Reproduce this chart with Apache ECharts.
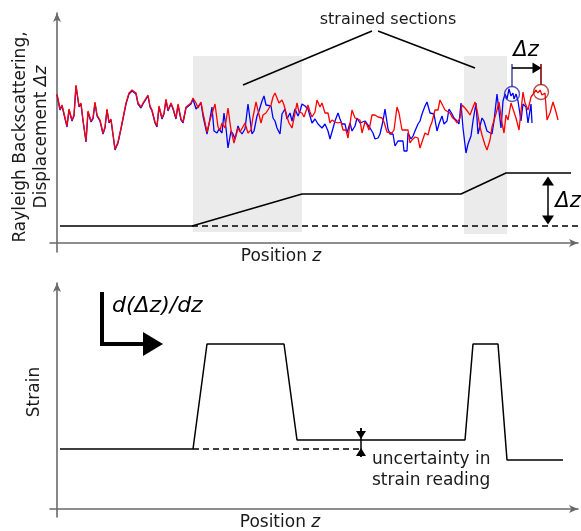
<!DOCTYPE html>
<html>
<head>
<meta charset="utf-8">
<script src="https://cdn.jsdelivr.net/npm/echarts@6/dist/echarts.min.js"></script>
<style>
html, body { margin: 0; padding: 0; background: #fff; }
#main { width: 581px; height: 531px; }
</style>
</head>
<body>
<div id="main"></div>
<script>
// top panel: backscatter traces (position z, level)
var commonTrace = [[0,149],[3,134],[5,138],[7,136],[10,117],[12,134],[15,123],[17,128],[19,158],[22,137],[24,140],[26,123],[29,102],[31,132],[34,122],[36,125],[38,141],[40,128],[43,123],[46,110],[48,116],[50,134],[52,121],[54,124],[58,94],[61,101],[64,115],[69,140],[72,150],[75,153],[79,150],[81,140],[84,136],[86,140],[88,140],[91,148],[93,137],[95,133],[98,121],[100,117],[102,137],[105,125],[107,130],[109,144],[111,133],[114,140],[116,135],[119,125],[121,139],[124,124],[126,121],[129,136],[131,138],[134,140],[136,145]];

var blueTail = [[139,135],[141,134],[144,141],[146,128],[150,110],[152,120],[155,137],[157,113],[160,111],[162,115],[165,111],[167,131],[169,116],[171,96],[174,113],[176,110],[178,105],[181,118],[183,113],[185,110],[188,115],[191,140],[193,140],[195,110],[197,113],[200,128],[202,133],[205,143],[207,148],[209,139],[211,141],[214,138],[216,126],[218,123],[220,116],[223,110],[225,130],[228,135],[230,125],[233,131],[235,123],[238,135],[241,128],[243,133],[245,140],[248,138],[251,135],[253,133],[255,121],[258,125],[261,120],[265,116],[268,120],[271,113],[273,105],[275,106],[278,123],[281,131],[283,125],[285,120],[288,120],[290,111],[293,121],[295,113],[298,118],[300,126],[303,121],[305,123],[308,123],[310,121],[313,116],[316,111],[318,105],[321,106],[323,110],[326,123],[328,135],[331,115],[333,110],[336,110],[338,98],[341,103],[343,105],[346,103],[347,93],[350,93],[351,111],[354,105],[356,108],[358,113],[361,120],[363,123],[365,130],[368,138],[370,142],[373,131],[375,130],[377,130],[380,113],[382,120],[385,128],[387,120],[390,123],[392,135],[395,130],[397,126],[400,123],[402,120],[404,141],[406,116],[409,91],[411,100],[414,108],[416,123],[419,141],[421,110],[423,111],[425,126],[427,123],[430,113],[432,111],[435,110],[437,123],[440,150],[442,133],[444,116],[446,143],[448,150],[450,145],[452,155],[454,148],[456,151],[457,145],[459,150],[461,143],[464,123],[466,140],[469,137],[471,121],[474,140],[475,121]];

var redTail = [[139,140],[141,135],[144,141],[146,130],[150,111],[153,123],[158,139],[161,116],[163,113],[165,120],[168,115],[171,135],[174,113],[177,100],[181,115],[183,111],[185,113],[188,120],[191,110],[194,113],[196,126],[199,141],[201,142],[204,120],[206,128],[209,130],[211,131],[214,138],[216,146],[218,150],[220,145],[222,140],[225,143],[227,138],[230,126],[232,120],[235,115],[237,113],[240,140],[242,131],[245,130],[247,126],[251,138],[253,131],[255,126],[258,131],[260,143],[263,136],[265,140],[268,130],[271,130],[273,120],[275,123],[278,121],[281,120],[284,121],[286,113],[289,113],[291,105],[293,106],[295,133],[298,125],[300,123],[303,123],[305,110],[308,121],[310,118],[312,113],[315,128],[318,128],[321,126],[325,125],[327,121],[330,111],[332,110],[335,110],[337,113],[340,136],[342,130],[345,113],[348,113],[351,113],[353,100],[355,103],[358,106],[361,105],[363,95],[365,95],[368,110],[371,108],[373,116],[375,121],[378,133],[381,133],[383,143],[385,145],[388,133],[390,135],[393,130],[395,126],[398,123],[400,120],[403,125],[405,138],[408,135],[411,131],[413,128],[415,126],[418,141],[420,133],[423,116],[425,108],[428,98],[430,93],[433,103],[435,116],[438,126],[440,133],[442,141],[445,120],[447,110],[449,128],[451,123],[454,140],[457,131],[459,125],[462,113],[463,111],[466,151],[468,140],[471,133],[474,146],[476,145],[479,153],[481,150],[483,153],[485,148],[488,150],[490,123],[493,130],[496,141],[499,131],[501,123]];

// displacement (top) and strain (bottom) profiles
var displacement = [[3,17],[135,17],[245,49],[404,49],[449,70],[514,70]];
var displacementBase = [[135,17],[521,17]];
var strainedSections = [[136,245,187,11],[407,450,187,9]];
var strain = [[3,60],[136,60],[150,165],[227,165],[240,69],[408,69],[416,165],[441,165],[450,49],[506,49]];
var strainBase = [[136,60],[303,60]];

// markers
var bluePeak = [455,149];
var redPeak = [484,151];
var shiftArrowY = 175;

var axisColor = '#6a6a6a';
var font = 'DejaVu Sans';
var ink = '#1a1a1a';

var chart = echarts.init(document.getElementById('main'));

function axisX(grid) {
    return {
        gridIndex: grid, type: 'value', min: -7, max: 521,
        axisLine: {show: true, onZero: true, symbol: ['none', 'arrow'], symbolSize: [6, 9],
            lineStyle: {color: axisColor, width: 1.6}},
        axisTick: {show: false}, axisLabel: {show: false}, splitLine: {show: false}
    };
}
function axisY(grid, min, max) {
    return {
        gridIndex: grid, type: 'value', min: min, max: max,
        axisLine: {show: true, onZero: true, symbol: ['none', 'arrow'], symbolSize: [6, 9],
            lineStyle: {color: axisColor, width: 1.6}},
        axisTick: {show: false}, axisLabel: {show: false}, splitLine: {show: false}
    };
}

function plain(data, xi, yi, color, width, z, dashed) {
    return {
        type: 'line', xAxisIndex: xi, yAxisIndex: yi, data: data, symbol: 'none', silent: true, z: z,
        lineStyle: {color: color, width: width, type: dashed ? [6, 4] : 'solid'},
        animation: false
    };
}

function arrowLine(xi, yi, from, to, symbols, size, color, width) {
    return {
        type: 'line', xAxisIndex: xi, yAxisIndex: yi, data: [], silent: true, z: 6,
        markLine: {
            silent: true, animation: false, symbol: symbols, symbolSize: size,
            label: {show: false},
            lineStyle: {color: color, width: width, type: 'solid'},
            data: [[{coord: from}, {coord: to}]]
        }
    };
}

var areaData = strainedSections.map(function (s) {
    return [{coord: [s[0], s[2]]}, {coord: [s[1], s[3]]}];
});

function label(x, y, text, size, opts) {
    opts = opts || {};
    return {
        type: 'text', x: x, y: y, rotation: opts.rotation || 0, silent: true,
        style: {
            text: text, fill: opts.fill || ink,
            font: (opts.italic ? 'italic ' : '') + size + 'px "' + font + '"',
            align: opts.align || 'center', verticalAlign: 'middle',
            lineHeight: opts.lineHeight,
            rich: {i: {fontStyle: 'italic', fontSize: size, fontFamily: font, lineHeight: opts.lineHeight}}
        }
    };
}

var option = {
    animation: false,
    backgroundColor: '#fff',
    grid: [
        {left: 50, right: 3, top: 13, bottom: 279},
        {left: 50, right: 3, top: 283, bottom: 14}
    ],
    xAxis: [axisX(0), axisX(1)],
    yAxis: [
        axisY(0, -9, 230),
        {gridIndex: 0, type: 'value', min: -8, max: 231, show: false},
        axisY(1, -8, 226)
    ],
    series: [
        {
            type: 'line', xAxisIndex: 0, yAxisIndex: 0, data: [], z: 1, silent: true,
            markArea: {silent: true, itemStyle: {color: '#ebebeb'}, data: areaData}
        },
        plain(commonTrace.concat(blueTail), 0, 1, '#0000ff', 1.3, 3),
        plain(commonTrace.concat(redTail), 0, 0, '#ff0000', 1.3, 4),
        plain(displacement, 0, 0, '#000', 1.5, 5),
        plain(displacementBase, 0, 0, '#000', 1.5, 5, true),
        // delta z between the two curves
        arrowLine(0, 0, [491, 62], [491, 23], ['triangle', 'triangle'], [12, 9], '#000', 1.5),
        // leader lines to the strained sections
        arrowLine(0, 0, [315, 212], [186, 158], ['none', 'none'], 0, '#000', 1.5),
        arrowLine(0, 0, [321, 212], [418, 175], ['none', 'none'], 0, '#000', 1.5),
        // markers on matching peaks
        arrowLine(0, 0, [bluePeak[0], 179], [bluePeak[0], 156], ['none', 'none'], 0, '#5050b0', 1.6),
        arrowLine(0, 0, [redPeak[0], 179], [redPeak[0], 158], ['none', 'none'], 0, '#8b0000', 1.6),
        arrowLine(0, 0, [bluePeak[0], shiftArrowY], [redPeak[0] - 4, shiftArrowY], ['none', 'triangle'], [11, 9], '#000', 1.6),
        {
            type: 'scatter', xAxisIndex: 0, yAxisIndex: 0, silent: true, z: 6,
            symbol: 'circle', symbolSize: 15,
            data: [
                {value: bluePeak, itemStyle: {color: 'rgba(0,0,0,0)', borderColor: '#2a2aa8', borderWidth: 1.4}},
                {value: redPeak, itemStyle: {color: 'rgba(0,0,0,0)', borderColor: '#a02020', borderWidth: 1.4}}
            ]
        },
        // bottom panel
        plain(strain, 1, 2, '#000', 1.5, 5),
        plain(strainBase, 1, 2, '#000', 1.5, 5, true),
        arrowLine(1, 2, [304, 81], [304, 52], ['none', 'none'], 0, '#000', 1.5),
        arrowLine(1, 2, [304, 81], [304, 74], ['none', 'triangle'], [10, 8], '#000', 1.5),
        arrowLine(1, 2, [304, 52], [304, 57], ['none', 'triangle'], [10, 8], '#000', 1.5),
        {
            type: 'line', xAxisIndex: 1, yAxisIndex: 2, silent: true, z: 6,
            lineStyle: {color: '#000', width: 4, join: 'miter', cap: 'butt'},
            itemStyle: {color: '#000'},
            data: [
                {value: [45, 217], symbol: 'none'},
                {value: [45, 165], symbol: 'none'},
                {value: [96, 165], symbol: 'triangle', symbolSize: [24, 20], symbolRotate: -90}
            ]
        }
    ],
    graphic: [
        label(388, 20, 'strained sections', 16),
        label(526, 51, 'Δz', 21, {italic: true, fill: '#000'}),
        label(568, 202, 'Δz', 21, {italic: true, fill: '#000'}),
        label(281, 257, 'Position {i|z}', 17),
        label(31, 137, 'Rayleigh Backscattering,\nDisplacement {i|Δz}', 17, {rotation: Math.PI / 2, lineHeight: 21}),
        label(112, 306, 'd(Δz)/dz', 22, {italic: true, align: 'left', fill: '#000'}),
        label(35, 392, 'Strain', 17, {rotation: Math.PI / 2}),
        label(372, 460, 'uncertainty in', 17, {align: 'left'}),
        label(372, 481, 'strain reading', 17, {align: 'left'}),
        label(280, 523, 'Position {i|z}', 17)
    ]
};

chart.setOption(option);
</script>
</body>
</html>
